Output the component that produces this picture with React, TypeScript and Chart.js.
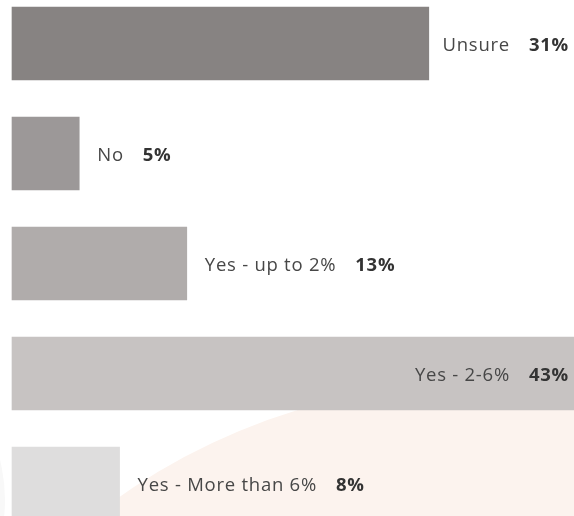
import React, { useEffect, useRef } from "react";
import { Chart, registerables } from "chart.js";

Chart.register(...registerables);

const categories = ["Unsure", "No", "Yes - up to 2%", "Yes - 2-6%", "Yes - More than 6%"];
const values = [31, 5, 13, 43, 8];
const barColors = ["#878382", "#9c9898", "#b0acab", "#c7c3c2", "#dedddd"];
const xMax = 41.8;

const FONT = "'Open Sans', Lato, sans-serif";
const SIZE = 18.5;

const backgroundPlugin = {
  id: "bgShapes",
  beforeDraw(chart: any) {
    const ctx = chart.ctx;
    ctx.save();
    ctx.fillStyle = "#fcf3ee";
    ctx.beginPath();
    ctx.arc(475, 1000, 616, 0, Math.PI * 2);
    ctx.fill();
    ctx.fillStyle = "#f8f8f8";
    ctx.beginPath();
    ctx.arc(-157, 500, 162, 0, Math.PI * 2);
    ctx.fill();
    ctx.restore();
  },
};

const labelPlugin = {
  id: "barLabels",
  afterDatasetsDraw(chart: any) {
    const ctx = chart.ctx;
    const meta = chart.getDatasetMeta(0);
    const right = chart.chartArea.right;
    ctx.save();
    ctx.textBaseline = "middle";
    ctx.textAlign = "left";
    (ctx as any).letterSpacing = "0.75px";
    meta.data.forEach((bar: any, i: number) => {
      const label = categories[i];
      const val = `${values[i]}%`;
      ctx.font = `400 ${SIZE}px ${FONT}`;
      const lw = ctx.measureText(label).width;
      ctx.font = `700 ${SIZE}px ${FONT}`;
      const vw = ctx.measureText(val).width;
      const gap = 19;
      let start = bar.x + 18;
      if (start + lw + gap + vw > right - 4) {
        start = right - 5 - vw - gap - lw;
      }
      const y = bar.y + 2.5;
      ctx.font = `400 ${SIZE}px ${FONT}`;
      ctx.fillStyle = "#474747";
      ctx.fillText(label, start, y);
      ctx.font = `700 ${SIZE}px ${FONT}`;
      ctx.fillStyle = "#333333";
      ctx.fillText(val, start + lw + gap, y);
    });
    ctx.restore();
  },
};

export default function App() {
  const ref = useRef<HTMLCanvasElement | null>(null);

  useEffect(() => {
    if (!ref.current) return;
    const chart = new Chart(ref.current, {
      type: "bar",
      data: {
        labels: categories,
        datasets: [
          {
            data: values,
            backgroundColor: barColors,
            borderWidth: 0,
            barThickness: 73,
            clip: false as any,
          },
        ],
      },
      options: {
        indexAxis: "y",
        responsive: false,
        animation: false,
        devicePixelRatio: 1,
        layout: { padding: { left: 12, right: 0, top: 43.5, bottom: 32.5 } },
        plugins: {
          legend: { display: false },
          tooltip: { enabled: false },
        },
        scales: {
          x: { display: false, min: 0, max: xMax, grid: { display: false } },
          y: { display: false, offset: false, grid: { display: false } },
        },
      },
      plugins: [backgroundPlugin, labelPlugin],
    });
    return () => chart.destroy();
  }, []);

  return (
    <div style={{ position: "absolute", left: 0, top: 0, width: 574, height: 516, overflow: "hidden", background: "#ffffff" }}>
      <canvas ref={ref} width={574} height={516} style={{ display: "block" }} />
    </div>
  );
}
